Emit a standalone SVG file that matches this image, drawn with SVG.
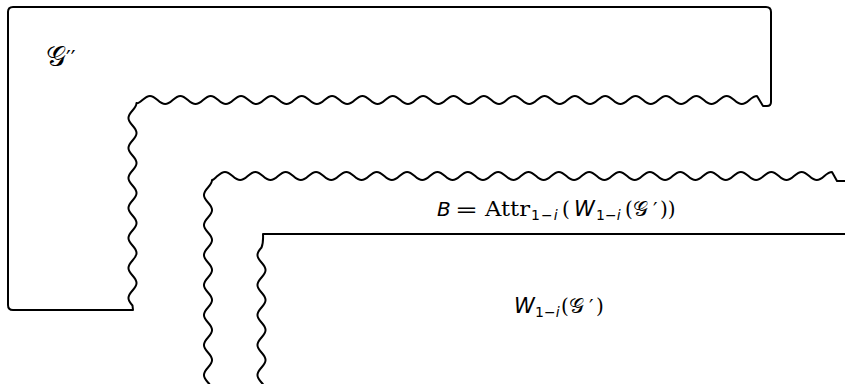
<svg xmlns="http://www.w3.org/2000/svg" width="845" height="384" viewBox="0 0 845 384">
<style>
.shape{fill:none;stroke:#000;stroke-width:2;stroke-linejoin:round;stroke-linecap:round}
.lbl{font-family:"DejaVu Sans","Noto Sans",sans-serif;font-size:20px;fill:#000}
.it{font-style:italic}
.rm{font-family:"DejaVu Serif","Liberation Serif",serif}
.cal{font-family:"DejaVu Serif","DejaVu Sans","Noto Sans",serif;font-style:normal}
.sub{font-size:14px}
</style>
<rect x="0" y="0" width="845" height="384" fill="#fff"/>
<g id="connectors"></g>
<g id="node-G2">
<path class="shape" d="M133,310 L132.5,305.5 c-5.4,-6 -5.4,-9 0,-15
s5.4,-9 0,-15 s-5.4,-9 0,-15
s5.4,-9 0,-15 s-5.4,-9 0,-15
s5.4,-9 0,-15 s-5.4,-9 0,-15
s5.4,-9 0,-15 s-5.4,-9 0,-15
s5.4,-9 0,-15 s-5.4,-9 0,-15
s5.4,-9 0,-15 s-5.4,-9 0,-15
C135.2,107.5 136.5,105.25 136.5,103 C138,103.7 139.35,102.7 142.4,100
c6.07,-5.4 9.105,-5.4 15.175,0
s9.105,5.4 15.175,0 s9.105,-5.4 15.175,0
s9.105,5.4 15.175,0 s9.105,-5.4 15.175,0
s9.105,5.4 15.175,0 s9.105,-5.4 15.175,0
s9.105,5.4 15.175,0 s9.105,-5.4 15.175,0
s9.105,5.4 15.175,0 s9.105,-5.4 15.175,0
s9.105,5.4 15.175,0 s9.105,-5.4 15.175,0
s9.105,5.4 15.175,0 s9.105,-5.4 15.175,0
s9.105,5.4 15.175,0 s9.105,-5.4 15.175,0
s9.105,5.4 15.175,0 s9.105,-5.4 15.175,0
s9.105,5.4 15.175,0 s9.105,-5.4 15.175,0
s9.105,5.4 15.175,0 s9.105,-5.4 15.175,0
s9.105,5.4 15.175,0 s9.105,-5.4 15.175,0
s9.105,5.4 15.175,0 s9.105,-5.4 15.175,0
s9.105,5.4 15.175,0 s9.105,-5.4 15.175,0
s9.105,5.4 15.175,0 s9.105,-5.4 15.175,0
s9.105,5.4 15.175,0 s9.105,-5.4 15.175,0
s9.105,5.4 15.175,0 s9.105,-5.4 15.175,0
s9.105,5.4 15.175,0 s9.105,-5.4 15.175,0
s9.105,5.4 15.175,0 s9.105,-5.4 15.175,0
s9.105,5.4 15.175,0
C752.4,97.3 754.7,96 757,96 L763,106 H767 Q771,106 771,102 V12 Q771,7 766,7 H13 Q8,7 8,12 V305 Q8,310 13,310 Z"/>
<text class="lbl" x="46" y="66"><tspan class="cal" font-size="28">𝒢</tspan><tspan font-size="21">′′</tspan></text>
</g>
<g id="node-B">
<path class="shape" d="M208,397.5 c5.4,-6 5.4,-9 0,-15
s-5.4,-9 0,-15 s5.4,-9 0,-15
s-5.4,-9 0,-15 s5.4,-9 0,-15
s-5.4,-9 0,-15 s5.4,-9 0,-15
s-5.4,-9 0,-15 s5.4,-9 0,-15
s-5.4,-9 0,-15 s5.4,-9 0,-15
s-5.4,-9 0,-15 s5.4,-9 0,-15
s-5.4,-9 0,-15
C210.7,184.5 212,182.25 212,180 C213.2,180 214.35,178.7 217.4,176
c6.07,-5.4 9.105,-5.4 15.175,0
s9.105,5.4 15.175,0 s9.105,-5.4 15.175,0
s9.105,5.4 15.175,0 s9.105,-5.4 15.175,0
s9.105,5.4 15.175,0 s9.105,-5.4 15.175,0
s9.105,5.4 15.175,0 s9.105,-5.4 15.175,0
s9.105,5.4 15.175,0 s9.105,-5.4 15.175,0
s9.105,5.4 15.175,0 s9.105,-5.4 15.175,0
s9.105,5.4 15.175,0 s9.105,-5.4 15.175,0
s9.105,5.4 15.175,0 s9.105,-5.4 15.175,0
s9.105,5.4 15.175,0 s9.105,-5.4 15.175,0
s9.105,5.4 15.175,0 s9.105,-5.4 15.175,0
s9.105,5.4 15.175,0 s9.105,-5.4 15.175,0
s9.105,5.4 15.175,0 s9.105,-5.4 15.175,0
s9.105,5.4 15.175,0 s9.105,-5.4 15.175,0
s9.105,5.4 15.175,0 s9.105,-5.4 15.175,0
s9.105,5.4 15.175,0 s9.105,-5.4 15.175,0
s9.105,5.4 15.175,0 s9.105,-5.4 15.175,0
s9.105,5.4 15.175,0 s9.105,-5.4 15.175,0
s9.105,5.4 15.175,0 s9.105,-5.4 15.175,0
s9.105,5.4 15.175,0 s9.105,-5.4 15.175,0
s9.105,5.4 15.175,0
C827.4,173.3 829.7,172 832,172 L837,181 H850"/>
<text class="lbl" y="216"><tspan class="it" x="437">B</tspan><tspan x="455" textLength="23" lengthAdjust="spacingAndGlyphs">=</tspan><tspan class="rm" x="485" font-size="19.5" textLength="45" lengthAdjust="spacingAndGlyphs">Attr</tspan><tspan class="sub" x="531" y="220" letter-spacing="1">1−<tspan class="it">i</tspan></tspan><tspan class="rm" x="562" y="216">(</tspan><tspan class="it" x="574" font-size="21">W</tspan><tspan class="sub" x="596" y="220">1−<tspan class="it">i</tspan></tspan><tspan class="rm" x="625" y="216">(</tspan><tspan class="cal" x="633" font-size="21">𝒢</tspan><tspan x="653">′</tspan><tspan class="rm" x="660">))</tspan></text>
</g>
<g id="node-W">
<path class="shape" d="M850,234 H263 C263.3,240 263,244 261.5,247.5 c-5.4,6 -5.4,9 0,15
s5.4,9 0,15 s-5.4,9 0,15
s5.4,9 0,15 s-5.4,9 0,15
s5.4,9 0,15 s-5.4,9 0,15
s5.4,9 0,15 s-5.4,9 0,15
s5.4,9 0,15"/>
<text class="lbl" y="313"><tspan class="it" x="514" font-size="21">W</tspan><tspan class="sub" x="535" y="317" font-size="13.5">1−<tspan class="it">i</tspan></tspan><tspan class="rm" x="561" y="313">(</tspan><tspan class="cal" x="569" font-size="21">𝒢</tspan><tspan x="589">′</tspan><tspan class="rm" x="596">)</tspan></text>
</g>
</svg>
